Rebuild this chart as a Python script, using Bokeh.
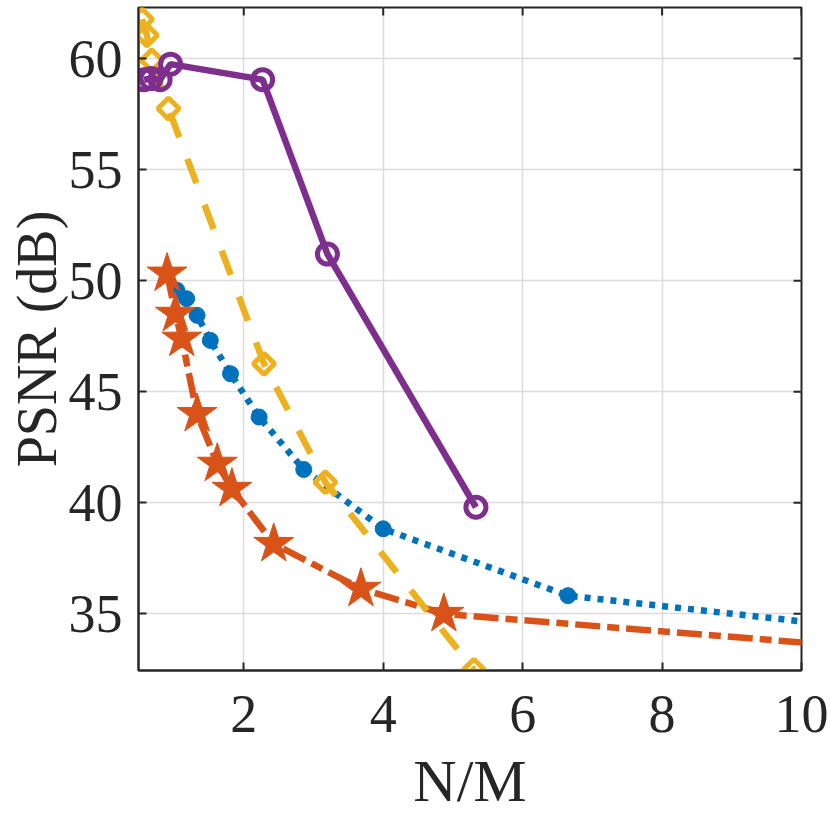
import numpy as np
from bokeh.plotting import figure
from bokeh.models import Range1d, FixedTicker
from bokeh.embed import file_html
from bokeh.resources import INLINE

# ---- data ----
blue_x = [1.04, 1.18, 1.33, 1.52, 1.81, 2.22, 2.86, 4.0, 6.65, 20.0]
blue_y = [49.57, 49.19, 48.44, 47.31, 45.81, 43.86, 41.5, 38.83, 35.82, 31.2]

orange_x = [0.90, 1.02, 1.11, 1.33, 1.62, 1.83, 2.43, 3.68, 4.87, 20.0]
orange_y = [50.32, 48.51, 47.39, 44.0, 41.76, 40.63, 38.15, 36.13, 35.0, 31.2]

yellow_x = [0.54, 0.61, 0.68, 0.92, 2.29, 3.17, 5.30]
yellow_y = [61.77, 61.05, 59.92, 57.75, 46.26, 40.93, 32.48]

purple_x = [0.57, 0.67, 0.80, 0.95, 2.27, 3.20, 5.33]
purple_y = [59.05, 59.1, 59.05, 59.75, 59.05, 51.2, 39.8]

x_ticks = [2, 4, 6, 8, 10]
y_ticks = [35, 40, 45, 50, 55, 60]
x_label = "N/M"
y_label = "PSNR (dB)"

# ---- figure ----
XR = (0.49, 10.0)
YR = (32.45, 62.3)
FONT = "Liberation Serif"
AX = "#262626"
W, H = 830, 816
ML, MR, MT, MB = 138, 29, 7, 146
FW, FH = W - ML - MR, H - MT - MB

p = figure(width=W, height=H, output_backend="svg", toolbar_location=None,
           x_range=Range1d(*XR), y_range=Range1d(*YR),
           min_border_left=ML, min_border_right=MR, min_border_top=MT,
           min_border_bottom=MB)
p.background_fill_color = "white"
p.border_fill_color = "white"
p.outline_line_color = AX
p.outline_line_width = 2

for ax in (p.xaxis[0], p.yaxis[0]):
    ax.major_label_text_font = FONT
    ax.major_label_text_font_size = "54px"
    ax.major_label_text_color = AX
    ax.axis_line_color = AX
    ax.axis_line_width = 2
    ax.major_tick_line_color = AX
    ax.major_tick_line_width = 2
    ax.major_tick_in = 8
    ax.major_tick_out = 0
    ax.minor_tick_line_color = None
    ax.axis_label_text_font = FONT
    ax.axis_label_text_font_style = "normal"
    ax.axis_label_text_color = AX
p.xaxis[0].axis_label_text_font_size = "60px"
p.yaxis[0].axis_label_text_font_size = "56px"
p.xaxis[0].ticker = FixedTicker(ticks=x_ticks)
p.yaxis[0].ticker = FixedTicker(ticks=y_ticks)
p.xaxis[0].major_label_standoff = 25
p.yaxis[0].major_label_standoff = 16
p.xaxis[0].axis_label = x_label
p.yaxis[0].axis_label = y_label
p.xaxis[0].axis_label_standoff = 13
p.yaxis[0].axis_label_standoff = -2

# inner ticks on the top and right edges of the box
tick_len_x = 8 * (YR[1] - YR[0]) / FH
tick_len_y = 8 * (XR[1] - XR[0]) / FW
p.segment(x0=x_ticks, y0=[YR[1]] * len(x_ticks), x1=x_ticks,
          y1=[YR[1] - tick_len_x] * len(x_ticks), line_color=AX, line_width=2)
p.segment(x0=[XR[1]] * len(y_ticks), y0=y_ticks, x1=[XR[1] - tick_len_y] * len(y_ticks),
          y1=y_ticks, line_color=AX, line_width=2)

p.xgrid.ticker = FixedTicker(ticks=x_ticks)
p.ygrid.ticker = FixedTicker(ticks=y_ticks)
p.grid.grid_line_color = "#dcdcdc"
p.grid.grid_line_width = 1.5

BLUE = "#0072BD"
ORANGE = "#D95319"
YELLOW = "#EDB120"
PURPLE = "#7E2F8E"

# blue dotted, filled circles
p.line(blue_x, blue_y, line_color=BLUE, line_width=6.5, line_dash="6 7")
p.scatter(blue_x, blue_y, marker="circle", size=16, fill_color=BLUE, line_color=BLUE)

# orange dash-dot, filled stars
p.line(orange_x, orange_y, line_color=ORANGE, line_width=6.5, line_dash="25 7 12 7")
p.scatter(orange_x, orange_y, marker="star", size=42, fill_color=ORANGE, line_color=ORANGE)

# yellow dashed, open diamonds
p.line(yellow_x, yellow_y, line_color=YELLOW, line_width=6.5, line_dash="26 23")
p.scatter(yellow_x, yellow_y, marker="square", angle=np.pi / 4, size=15,
          fill_alpha=0, line_color=YELLOW, line_width=5)

# purple solid, open circles
p.line(purple_x, purple_y, line_color=PURPLE, line_width=6.5)
p.scatter(purple_x, purple_y, marker="circle", size=20, fill_alpha=0,
          line_color=PURPLE, line_width=5)

open("out.html", "w").write(file_html(p, INLINE))
